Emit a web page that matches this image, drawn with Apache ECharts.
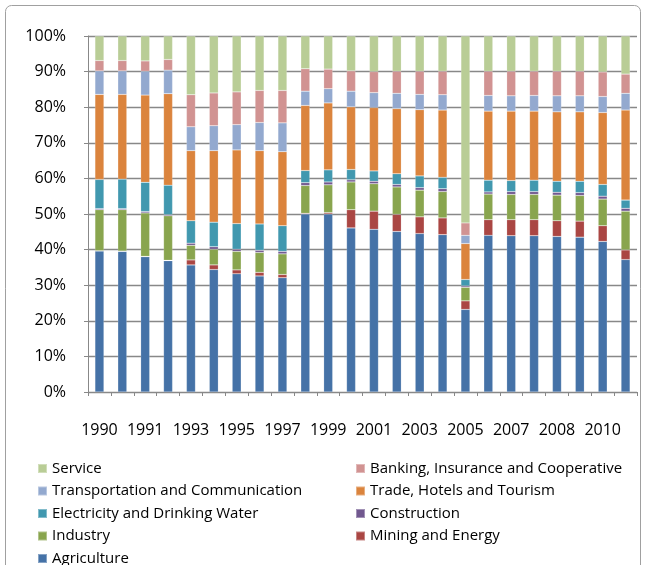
<!DOCTYPE html>
<html>
<head>
<meta charset="utf-8">
<script src="https://cdn.jsdelivr.net/npm/echarts@6/dist/echarts.min.js"></script>
<style>
html,body{margin:0;padding:0;background:#fff;}
#c{width:645px;height:565px;}
</style>
</head>
<body>
<div id="c"></div>
<script>
// 24 bars; every other one carries a label
const years = ['1990','1990/91','1991','1992','1993','1994','1995','1996','1997','1998','1999','2000',
               '2001','2002','2003','2004','2005','2006','2007','2007/08','2008','2009','2010','2011'];

const agriculture   = [39.6,39.5,38.0,36.9,35.7,34.4,33.2,32.6,32.1,50.0,50.0,46.1,45.7,45.1,44.5,44.2,23.2,44.0,43.9,43.9,43.7,43.5,42.3,37.2];
const mining        = [0.1,0.1,0.1,0.1,1.4,1.3,1.1,1.0,0.9,0.2,0.4,5.1,5.1,4.8,4.7,4.7,2.4,4.4,4.5,4.5,4.4,4.5,4.4,2.7];
const industry      = [11.5,11.6,12.2,12.5,4.1,4.4,5.2,5.6,5.8,7.8,7.8,7.8,7.7,7.7,7.5,7.4,3.8,7.2,7.1,7.1,7.2,7.2,7.5,10.9];
const construction  = [0.3,0.3,0.4,0.3,0.6,0.7,0.6,0.6,0.7,0.8,0.8,0.6,0.7,0.7,0.7,0.8,0.4,0.6,0.8,0.8,0.8,0.8,0.8,0.8];
const electricity   = [8.2,8.3,8.2,8.3,6.3,6.9,7.2,7.4,7.2,3.4,3.4,2.9,2.9,3.0,3.3,3.2,1.8,3.3,3.1,3.2,3.1,3.2,3.3,2.3];
const trade         = [23.9,23.8,24.5,25.7,19.7,20.1,20.7,20.6,20.8,18.3,18.8,17.6,17.8,18.3,18.6,18.9,10.1,19.4,19.5,19.4,19.5,19.5,20.2,25.3];
const transport     = [6.6,6.6,6.7,6.6,6.7,7.0,7.1,7.9,8.1,4.0,4.0,4.4,4.2,4.3,4.3,4.3,2.3,4.4,4.3,4.4,4.5,4.5,4.5,4.7];
const banking       = [2.9,2.9,2.9,3.0,9.0,9.2,9.2,9.0,9.1,6.3,5.5,5.7,5.9,6.2,6.5,6.6,3.5,6.8,6.9,6.8,6.9,6.9,6.9,5.4];
const service       = [6.9,6.9,7.0,6.6,16.5,16.0,15.7,15.3,15.3,9.2,9.3,9.8,10.0,9.9,9.9,9.9,52.5,9.9,9.9,9.9,9.9,9.9,10.1,10.7];

const seriesDefs = [
  {name:'Agriculture', data:agriculture, color:'#4572A7'},
  {name:'Mining and Energy', data:mining, color:'#AA4643'},
  {name:'Industry', data:industry, color:'#89A54E'},
  {name:'Construction', data:construction, color:'#71588F'},
  {name:'Electricity and Drinking Water', data:electricity, color:'#4198AF'},
  {name:'Trade, Hotels and Tourism', data:trade, color:'#DB843D'},
  {name:'Transportation and Communication', data:transport, color:'#93A9CF'},
  {name:'Banking, Insurance and Cooperative', data:banking, color:'#D19392'},
  {name:'Service', data:service, color:'#B9CD96'}
];

const FONT = 'Open Sans';
const chart = echarts.init(document.getElementById('c'), null, {renderer:'canvas'});
const legendText = {fontFamily:FONT, fontSize:15, color:'#000'};

chart.setOption({
  backgroundColor:'#fff',
  animation:false,
  graphic:[{type:'rect', shape:{x:5.5,y:5.5,width:635,height:620,r:6}, style:{fill:'none',stroke:'#a0a0a0',lineWidth:1}, z:-1}],
  grid:{left:88, right:8, top:36, bottom:173},
  legend:[
    {orient:'vertical', left:37, top:461, height:140, padding:0, itemWidth:9, itemHeight:9, itemGap:7.5, icon:'rect',
     textStyle:legendText,
     data:['Service','Transportation and Communication','Electricity and Drinking Water','Industry','Agriculture']},
    {orient:'vertical', left:355, top:461, height:140, padding:0, itemWidth:9, itemHeight:9, itemGap:7.5, icon:'rect',
     textStyle:legendText,
     data:['Banking, Insurance and Cooperative','Trade, Hotels and Tourism','Construction','Mining and Energy']}
  ],
  xAxis:{type:'category', data:years,
     axisLine:{show:true, lineStyle:{color:'#888', width:1}},
     axisTick:{show:true, length:4, interval:0, lineStyle:{color:'#888'}},
     axisLabel:{show:true, interval:1, margin:30, fontFamily:FONT, fontSize:16, color:'#000'}},
  yAxis:{type:'value', min:0, max:100, interval:10,
     axisLine:{show:true, lineStyle:{color:'#888', width:1}},
     axisTick:{show:true, length:4, lineStyle:{color:'#888'}},
     axisLabel:{formatter:'{value}%', fontFamily:FONT, fontSize:16, color:'#000', margin:22},
     splitLine:{show:true, lineStyle:{color:'#888', width:1.3}}},
  series: seriesDefs.map(s => ({
    name:s.name, type:'bar', stack:'total',
    barWidth:9, data:s.data,
    itemStyle:{color:s.color, borderColor:'rgba(255,255,255,0.35)', borderWidth:0.5}
  }))
});
</script>
</body>
</html>
